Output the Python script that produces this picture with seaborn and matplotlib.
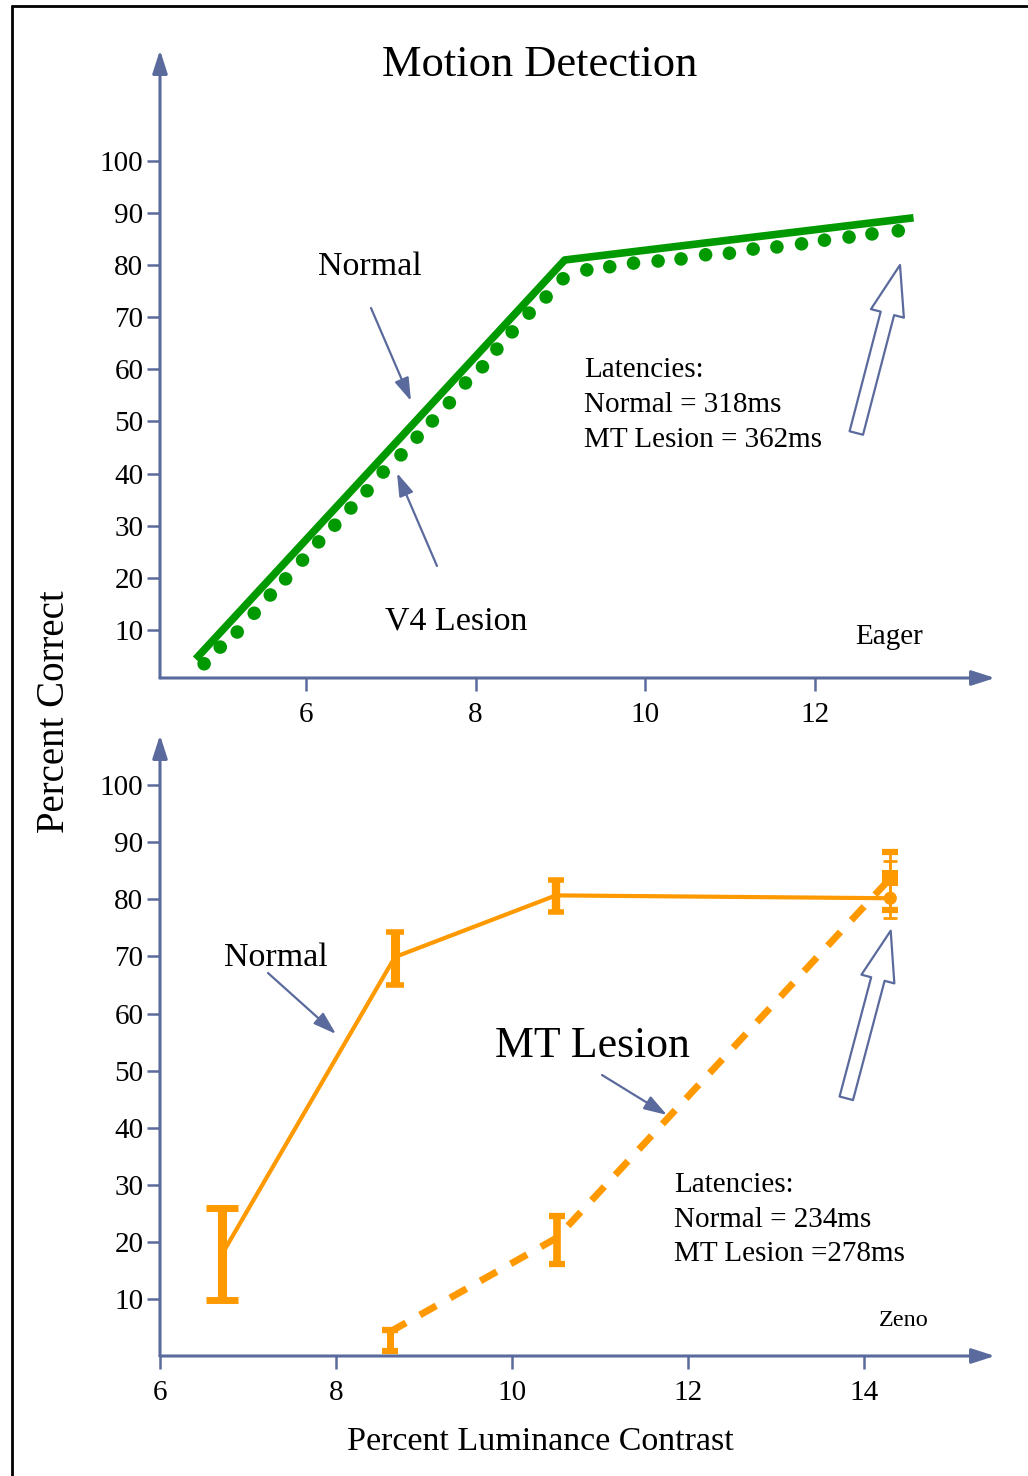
import numpy as np
import pandas as pd
import matplotlib
matplotlib.use("Agg")
import matplotlib.pyplot as plt
import seaborn as sns
from matplotlib.lines import Line2D

# ---------------- data ----------------
# Top panel (Eager)
top_normal_x = [4.70, 9.05, 13.16]
top_normal_y = [4.4, 81.0, 89.1]
top_v4_x = [4.80, 4.99, 5.19, 5.39, 5.58, 5.76, 5.96, 6.15, 6.34, 6.53, 6.72, 6.91,
            7.12, 7.31, 7.49, 7.69, 7.88, 8.08, 8.25, 8.43, 8.63, 8.83, 9.03, 9.31,
            9.58, 9.86, 10.15, 10.42, 10.71, 10.99, 11.27, 11.55, 11.84, 12.11,
            12.40, 12.67, 12.98]
top_v4_y = [3.5, 6.7, 9.6, 13.2, 16.7, 19.8, 23.4, 26.9, 30.1, 33.4, 36.7, 40.3,
            43.6, 47.0, 50.1, 53.6, 57.4, 60.5, 63.9, 67.2, 70.8, 73.9, 77.4, 79.1,
            79.7, 80.4, 80.8, 81.2, 82.0, 82.3, 83.1, 83.5, 84.1, 84.8, 85.4, 86.0, 86.6]

# Bottom panel (Zeno)
bot_normal_x = [6.70, 8.67, 10.50, 14.30]
bot_normal_y = [17.7, 69.9, 80.7, 80.2]
bot_normal_lo = [9.8, 65.0, 77.8, 76.7]
bot_normal_hi = [25.9, 74.3, 83.4, 86.7]
bot_mt_x = [8.61, 10.51, 14.30]
bot_mt_y = [4.2, 20.7, 83.7]
bot_mt_lo = [0.9, 16.1, 78.1]
bot_mt_hi = [4.6, 24.5, 88.3]

top_xticks = [6, 8, 10, 12]
bot_xticks = [6, 8, 10, 12, 14]
y_ticks = [10, 20, 30, 40, 50, 60, 70, 80, 90, 100]

# ---------------- style ----------------
GREEN = "#009a00"
ORANGE = "#ff9900"
AX = "#5a6a9c"

sns.set_theme(style="white")
plt.rcParams['font.family'] = ['Liberation Serif', 'DejaVu Serif']

W, H = 1028, 1476
fig = plt.figure(figsize=(W / 100, H / 100), dpi=100)


def add_ax(l, t, r, b):
    return fig.add_axes([l / W, 1 - b / H, (r - l) / W, (b - t) / H])


ax1 = add_ax(160, 50, 995, 678)
ax2 = add_ax(160, 735, 995, 1356)


def style_axis(ax):
    ax.set_facecolor('none')
    for s in ax.spines.values():
        s.set_visible(False)
    ax.grid(False)
    ax.tick_params(axis='both', which='major', direction='out', length=9.5,
                   width=1.8, color=AX, labelsize=21, labelcolor='black',
                   bottom=True, left=True, top=False, right=False)
    ax.tick_params(axis='y', pad=2.5)
    ax.tick_params(axis='x', pad=8)
    ap = dict(arrowstyle='-|>,head_length=1.4,head_width=0.45', mutation_scale=10,
              lw=2.2, color=AX, shrinkA=0, shrinkB=0, clip_on=False)
    ax.annotate('', xy=(1, 0), xytext=(0, 0), xycoords='axes fraction',
                arrowprops=ap, annotation_clip=False)
    ax.annotate('', xy=(0, 1), xytext=(0, 0), xycoords='axes fraction',
                arrowprops=ap, annotation_clip=False)
    ax.set_xlabel('')
    ax.set_ylabel('')


# ---- top panel ----
sns.lineplot(x=top_normal_x, y=top_normal_y, ax=ax1, color=GREEN, lw=5.5,
             sort=False, errorbar=None, solid_capstyle='butt')
sns.scatterplot(x=top_v4_x, y=top_v4_y, ax=ax1, color=GREEN, s=95,
                edgecolor='none', linewidth=0)
ax1.set_xlim(4.28, 14.12)
ax1.set_ylim(0.77, 121.3)
ax1.set_xticks(top_xticks)
ax1.set_yticks(y_ticks)
style_axis(ax1)

# ---- bottom panel ----
sns.lineplot(x=bot_normal_x, y=bot_normal_y, ax=ax2, color=ORANGE, lw=3,
             sort=False, errorbar=None)
sns.lineplot(x=bot_mt_x, y=bot_mt_y, ax=ax2, color=ORANGE, lw=5, sort=False,
             errorbar=None, linestyle=(0, (2.7, 2.3)), dash_capstyle='butt')

n_elw = [6.5, 6.5, 6.0, 2.0]
n_cap = [11.5, 6.5, 6.0, 5.0]
n_capthick = [5.0, 4.0, 4.0, 2.0]
for i in range(len(bot_normal_x)):
    y = bot_normal_y[i]
    ax2.errorbar(bot_normal_x[i], y, yerr=[[y - bot_normal_lo[i]], [bot_normal_hi[i] - y]],
                 fmt='none', ecolor=ORANGE, elinewidth=n_elw[i], capsize=n_cap[i],
                 capthick=n_capthick[i])
m_elw = [5.0, 5.5, 2.0]
m_cap = [6.0, 6.0, 5.8]
m_capthick = [4.5, 4.5, 4.5]
for i in range(len(bot_mt_x)):
    y = bot_mt_y[i]
    ax2.errorbar(bot_mt_x[i], y, yerr=[[y - bot_mt_lo[i]], [bot_mt_hi[i] - y]],
                 fmt='none', ecolor=ORANGE, elinewidth=m_elw[i], capsize=m_cap[i],
                 capthick=m_capthick[i])
ax2.scatter([bot_normal_x[-1]], [bot_normal_y[-1]], marker='o', s=90,
            color=ORANGE, edgecolor='none', zorder=5)
ax2.scatter([bot_mt_x[-1]], [bot_mt_y[-1]], marker='s', s=132,
            color=ORANGE, edgecolor='none', zorder=5)
ax2.set_xlim(6, 15.49)
ax2.set_ylim(0, 108.8)
ax2.set_xticks(bot_xticks)
ax2.set_yticks(y_ticks)
style_axis(ax2)

# ---------------- overlay (pixel coordinates) ----------------
ov = fig.add_axes([0, 0, 1, 1])
ov.set_xlim(0, W)
ov.set_ylim(H, 0)
ov.axis('off')
ov.patch.set_alpha(0)

# frame
ov.add_line(Line2D([11.5, 11.5], [5.7, H + 5], color='black', lw=2.0))
ov.add_line(Line2D([11.5, W + 5], [5.7, 5.7], color='black', lw=2.0))


def txt(x, y, s, size, ha='left', **kw):
    ov.text(x, y, s, fontsize=size, ha=ha, va='baseline', color='black', **kw)


txt(540, 76, "Motion Detection", 32, ha='center')
txt(318, 275, "Normal", 24.5)
txt(385, 629, "V4 Lesion", 24.5)
txt(584, 377, "Latencies:", 21)
txt(584, 412, "Normal = 318ms", 21)
txt(584, 447, "MT Lesion = 362ms", 21)
txt(855, 644, "Eager", 21)

txt(224, 966, "Normal", 24.5)
txt(495, 1057, "MT Lesion", 31.5)
txt(674, 1192, "Latencies:", 21)
txt(674, 1227, "Normal = 234ms", 21)
txt(674, 1261, "MT Lesion =278ms", 21)
txt(879, 1326, "Zeno", 17.5)

txt(540, 1450, "Percent Luminance Contrast", 24.5, ha='center')
ov.text(55, 712, "Percent Correct", fontsize=28, rotation=90, ha='center',
        va='center', color='black')

# thin annotation arrows
thin = dict(arrowstyle='-|>,head_length=1.4,head_width=0.45', mutation_scale=10,
            lw=1.6, color=AX, shrinkA=0, shrinkB=0)
for (x0, y0), (x1, y1) in [((371, 308), (411, 401)),
                           ((437, 566), (397, 473)),
                           ((268, 973), (336, 1034)),
                           ((602, 1075), (667, 1115))]:
    ov.annotate('', xy=(x1, y1), xytext=(x0, y0), arrowprops=thin)

# hollow big arrows
hollow = dict(arrowstyle='simple,head_length=3.6,head_width=2.45,tail_width=1.0',
              mutation_scale=10, fc='white', ec=AX, lw=1.6, shrinkA=0, shrinkB=0)
ov.annotate('', xy=(900, 265), xytext=(856.3, 433), arrowprops=hollow)
ov.annotate('', xy=(890.7, 930.7), xytext=(846.3, 1098.3), arrowprops=hollow)

fig.savefig("out.png", dpi=100)
